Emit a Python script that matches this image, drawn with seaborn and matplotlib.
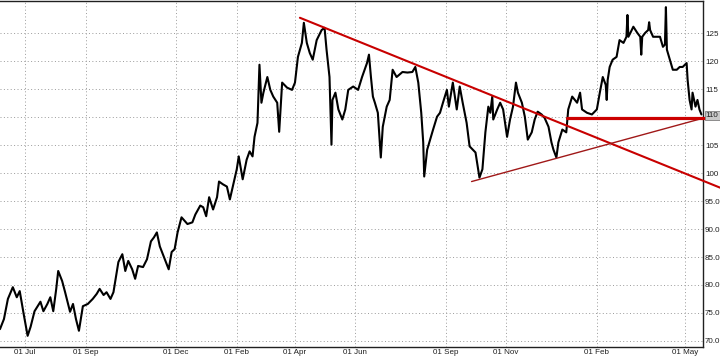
import pandas as pd
import matplotlib
matplotlib.use("Agg")
import matplotlib.pyplot as plt
import seaborn as sns

# ------------------------------------------
# data
# ------------------------------------------
START = pd.Timestamp("2009-06-06")

day = [0, 4, 8, 13, 17, 20, 24, 28, 31, 35, 41, 44, 48, 51, 54, 57, 59, 63, 66, 71,
       74, 77, 80, 84, 89, 94, 98, 101, 105, 108, 112, 115, 120, 124, 127, 130,
       134, 137, 140, 145, 149, 153, 156, 159, 162, 167, 171, 174, 177, 180, 184, 190,
       195, 198, 203, 206, 209, 212, 216, 220, 222, 226, 230, 233, 236, 240, 242, 246,
       250, 253,
       256, 258, 261, 263, 265, 267, 271, 274, 277, 281, 283, 286, 291, 296, 299, 302,
       306, 308, 311, 314, 317, 321, 326, 329, 331, 334, 336, 337, 340, 343, 347, 350,
       353, 358, 363, 367, 372, 374,
       376, 378, 380, 383, 386, 388, 392, 395, 398, 402, 408, 413, 418, 421, 424, 427,
       429, 430, 433, 436, 439, 443, 446, 449, 453, 455, 459, 463, 466, 469, 473, 476,
       482, 486, 489, 492, 495,
       497, 499, 500, 504, 507, 510, 514, 517, 520, 523, 525, 529, 532, 535, 539, 542,
       545, 549, 552, 556, 559, 561, 564, 566, 570, 574, 576, 580, 585, 588, 590, 595,
       600, 605, 608, 611, 614, 615, 616, 618, 621, 625, 628, 632, 635, 636, 637, 639,
       642, 646, 649, 650, 651, 654, 657, 658, 659, 662, 666, 669, 672, 674, 675, 676,
       679, 682, 686, 689, 692, 696, 697, 699, 701, 702, 705, 707, 709, 711]

price = [72.1, 73.9, 77.5, 79.6, 77.8, 78.9, 74.8, 70.9, 72.5, 75.3, 77.0, 75.3, 76.6, 77.8, 75.3, 79.3, 82.5, 80.7, 78.7, 75.2,
         76.6, 73.9, 71.8, 76.2, 76.6, 77.5, 78.4, 79.3, 78.2, 78.7, 77.5, 78.7, 84.1, 85.5, 82.5, 84.3,
         82.8, 81.1, 83.4, 83.2, 84.6, 87.8, 88.5, 89.4, 86.9, 84.6, 82.8, 85.9, 86.4, 89.4, 92.1, 90.9,
         91.2, 92.6, 94.2, 93.9, 92.3, 95.7, 93.5, 95.7, 98.5, 98.0, 97.6, 95.3, 97.6, 100.7, 103.0, 98.9,
         102.4, 103.9,
         103.0, 106.5, 109.0, 119.4, 112.6, 114.4, 117.2, 114.9, 113.7, 112.6, 107.4, 116.2, 115.3, 114.9, 116.2, 120.8,
         123.3, 126.9, 123.3, 121.5, 120.3, 123.8, 125.6, 126.0, 122.1, 117.2, 105.1, 113.1, 114.4, 111.4, 109.6, 111.4,
         114.9, 115.5, 114.9, 117.2, 119.7, 121.2,
         117.2, 113.7, 112.6, 110.8, 102.8, 108.3, 111.9, 113.1, 118.5, 117.2, 118.1, 118.0, 118.1, 119.0, 116.2, 110.8,
         105.5, 99.4, 104.2, 106.0, 107.8, 110.1, 110.8, 112.6, 114.9, 111.9, 116.2, 111.4, 115.5, 112.6, 109.0, 104.8,
         103.7, 99.2, 100.7, 107.3, 111.9,
         110.8, 113.7, 109.6, 111.4, 112.6, 111.4, 106.5, 109.6, 111.9, 116.2, 114.4, 112.6, 110.1, 106.0, 107.3, 109.6,
         111.0, 110.5, 109.9, 108.3, 105.5, 104.2, 102.8, 105.5, 107.8, 107.3, 111.4, 113.7, 112.6, 114.4, 111.4, 110.8,
         110.5, 111.4, 114.4, 117.2, 115.8, 113.1, 116.7, 119.0, 120.3, 120.8, 123.8, 123.3, 124.4, 128.3, 124.4, 125.1,
         126.2, 125.1, 124.4, 121.2, 124.4, 125.1, 125.6, 127.0, 125.6, 124.4, 124.4, 124.4, 122.6, 123.0, 129.7, 122.1,
         120.3, 118.5, 118.5, 119.0, 119.0, 119.7, 116.7, 113.1, 111.4, 114.4, 111.9, 113.1, 111.4, 110.5]

# trend lines drawn on the chart
resist_day = [304, 730]
resist_val = [127.8, 97.4]
support_day = [478, 712]
support_val = [98.5, 109.8]
level_day = [575, 730]
level_val = [109.8, 109.8]
last_price = "110"

tick_dates = ["2009-07-01", "2009-09-01", "2009-12-01", "2010-02-01", "2010-04-01",
              "2010-06-01", "2010-09-01", "2010-11-01", "2011-02-01", "2011-05-01"]
tick_labels = ["01 Jul", "01 Sep", "01 Dec", "01 Feb", "01 Apr",
               "01 Jun", "01 Sep", "01 Nov", "01 Feb", "01 May"]
y_ticks = [70, 75, 80, 85, 90, 95, 100, 105, 110, 115, 120, 125]
# the 110 label sits under the current-price box
y_labels = ["70.0", "75.0", "80.0", "85.0", "90.0", "95.0",
            "100", "105", "", "115", "120", "125"]


def to_dates(days):
    return START + pd.to_timedelta(days, unit="D")


df = pd.DataFrame({"date": to_dates(day), "price": price})

sns.set_theme(style="white")
plt.rcParams["font.family"] = ["Liberation Sans", "DejaVu Sans"]

fig = plt.figure(figsize=(7.2, 3.6), dpi=100)
ax = fig.add_axes([0.0, 13 / 360, 703 / 720, 346 / 360])

sns.lineplot(data=df, x="date", y="price", ax=ax, color="black",
             linewidth=1.5, estimator=None, sort=False)

# trend lines
ax.plot(to_dates(resist_day), resist_val, color="#c80000", lw=1.5, clip_on=False, zorder=5)
ax.plot(to_dates(support_day), support_val, color="#a01818", lw=1.0, clip_on=False, zorder=5)
ax.plot(to_dates(level_day), level_val, color="#cc0000", lw=2.3, clip_on=False, zorder=5)

ax.set_xlim(START, START + pd.Timedelta(days=712.6))
ax.set_ylim(68.9, 130.8)

ax.set_xticks(pd.to_datetime(tick_dates))
ax.set_xticklabels(tick_labels)
ax.set_yticks(y_ticks)
ax.set_yticklabels(y_labels)
ax.yaxis.tick_right()
ax.tick_params(axis="both", labelsize=5.8, colors="#202020", length=0, pad=1.5)
ax.set_xlabel("")
ax.set_ylabel("")

ax.grid(True, color="#9a9a9a", linestyle=(0, (1, 2.5)), linewidth=0.7)
for side in ["top", "right", "bottom"]:
    ax.spines[side].set_visible(True)
    ax.spines[side].set_color("#202020")
    ax.spines[side].set_linewidth(1.0)
ax.spines["left"].set_visible(False)

# current price box on the price scale
ax.text(1.004, 110.3, last_price, transform=ax.get_yaxis_transform(),
        fontsize=5.8, va="center", ha="left", color="#202020", zorder=6, clip_on=False,
        bbox=dict(boxstyle="square,pad=0.15", fc="#c8c8c8", ec="#808080", lw=0.6))

fig.savefig("out.png", dpi=100)
